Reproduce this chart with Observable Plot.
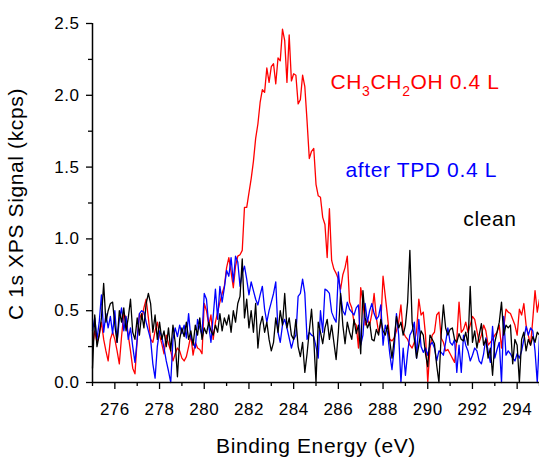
<!DOCTYPE html>
<html><head><meta charset="utf-8">
<script src="https://cdn.jsdelivr.net/npm/d3@7"></script>
<script src="https://cdn.jsdelivr.net/npm/@observablehq/plot@0.6"></script>
<style>
html,body{margin:0;padding:0;background:#fff;}
#chart svg text{letter-spacing:0.03em;}
</style>
</head><body><div id="chart"></div>
<script>
// Binding energy grid (eV)
const energyStart = 275, energyStep = 0.1;

// clean (black)
const clean = [
0.10,0.47,0.25,0.33,0.45,0.69,0.42,0.50,0.55,0.56,
0.40,0.28,0.50,0.42,0.52,0.36,0.45,0.58,0.35,0.30,
0.45,0.33,0.48,0.38,0.55,0.62,0.55,0.35,0.47,0.30,
0.42,0.30,0.36,0.25,0.38,0.22,0.40,0.28,0.04,0.30,
0.38,0.32,0.42,0.30,0.36,0.26,0.40,0.33,0.45,0.30,
0.38,0.34,0.42,0.36,0.33,0.40,0.35,0.48,0.36,0.45,
0.40,0.47,0.35,0.50,0.42,0.55,0.60,0.86,0.45,0.58,
0.38,0.50,0.35,0.55,0.24,0.40,0.46,0.35,0.42,0.30,
0.22,0.28,0.45,0.35,0.50,0.40,0.62,0.38,0.45,0.33,
0.30,0.44,0.25,0.18,0.28,0.07,0.20,0.36,0.51,0.30,
0.00,0.42,0.35,0.27,0.38,0.44,0.30,0.40,0.28,0.16,
0.35,0.62,0.40,0.27,0.42,0.35,0.30,0.44,0.34,0.40,
0.20,0.64,0.45,0.38,0.42,0.30,0.29,0.37,0.33,0.44,
0.36,0.33,0.40,0.29,0.17,0.30,0.46,0.38,0.42,0.33,
0.40,0.56,0.92,0.42,0.30,0.17,0.26,0.36,0.33,0.20,
0.11,0.33,0.30,0.27,0.12,0.00,0.33,0.54,0.38,0.33,
0.37,0.38,0.30,0.28,0.34,0.30,0.29,0.35,0.26,0.67,
0.28,0.36,0.24,0.33,0.41,0.26,0.30,0.17,0.24,0.05,
0.28,0.35,0.42,0.56,0.33,0.40,0.38,0.40,0.13,0.30,
0.26,0.00,0.30,0.35,0.22,0.30,0.26,0.32,0.28,0.35,
0.33];

// after TPD 0.4 L (blue)
const afterTPD = [
0.36,0.45,0.30,0.42,0.61,0.35,0.48,0.38,0.46,0.34,
0.50,0.28,0.44,0.52,0.36,0.46,0.30,0.38,0.25,0.14,
0.30,0.48,0.50,0.49,0.42,0.36,0.30,0.13,0.03,0.25,
0.36,0.32,0.24,0.15,0.08,0.00,0.30,0.38,0.32,0.40,
0.34,0.40,0.31,0.48,0.31,0.28,0.24,0.44,0.38,0.33,
0.62,0.58,0.40,0.28,0.46,0.65,0.44,0.67,0.56,0.66,
0.78,0.74,0.87,0.70,0.88,0.84,0.67,0.76,0.81,0.72,
0.61,0.70,0.64,0.58,0.54,0.61,0.67,0.51,0.42,0.50,
0.56,0.62,0.70,0.35,0.28,0.40,0.44,0.38,0.31,0.24,
0.30,0.33,0.60,0.62,0.72,0.62,0.30,0.35,0.33,0.32,
0.25,0.17,0.50,0.35,0.65,0.64,0.62,0.49,0.45,0.42,
0.77,0.61,0.50,0.47,0.56,0.51,0.49,0.47,0.52,0.54,
0.26,0.33,0.55,0.42,0.50,0.55,0.48,0.44,0.46,0.54,
0.26,0.40,0.35,0.20,0.09,0.24,0.48,0.33,0.00,0.24,
0.05,0.21,0.33,0.36,0.42,0.17,0.44,0.25,0.21,0.24,
0.19,0.26,0.28,0.24,0.15,0.22,0.21,0.19,0.28,0.38,
0.28,0.26,0.30,0.07,0.26,0.07,0.33,0.26,0.22,0.15,
0.19,0.24,0.22,0.15,0.13,0.20,0.31,0.22,0.14,0.39,
0.17,0.23,0.28,0.00,0.46,0.19,0.22,0.20,0.17,0.15,
0.20,0.17,0.22,0.30,0.39,0.33,0.38,0.36,0.22,0.00,
0.32];

// CH3CH2OH 0.4 L (red)
const ethanol = [
0.25,0.36,0.28,0.33,0.42,0.30,0.22,0.15,0.30,0.35,
0.30,0.22,0.13,0.32,0.48,0.45,0.33,0.22,0.10,0.06,
0.30,0.48,0.44,0.52,0.58,0.45,0.30,0.28,0.36,0.42,
0.33,0.27,0.20,0.33,0.27,0.22,0.15,0.20,0.24,0.22,
0.17,0.15,0.18,0.25,0.33,0.19,0.28,0.24,0.23,0.20,
0.55,0.50,0.40,0.47,0.30,0.42,0.49,0.56,0.62,0.67,
0.80,0.87,0.77,0.66,0.81,0.88,0.89,0.92,1.22,1.22,
1.32,1.42,1.54,1.70,1.80,1.95,2.04,2.02,2.19,2.09,
2.20,2.22,2.08,2.26,2.24,2.46,2.38,2.09,2.42,2.10,
2.15,2.14,1.94,1.97,2.14,2.06,1.82,1.56,1.61,1.63,
1.38,1.30,1.29,1.15,1.10,0.87,1.21,0.85,0.79,0.76,
0.72,0.65,0.75,0.80,0.88,0.56,0.52,0.42,0.40,0.24,
0.66,0.56,0.40,0.44,0.40,0.48,0.62,0.45,0.35,0.41,
0.74,0.60,0.46,0.30,0.29,0.31,0.36,0.42,0.54,0.35,
0.32,0.30,0.26,0.24,0.28,0.36,0.58,0.47,0.49,0.33,
0.00,0.24,0.33,0.35,0.47,0.49,0.31,0.28,0.22,0.23,
0.20,0.17,0.14,0.30,0.56,0.35,0.37,0.42,0.35,0.40,
0.46,0.44,0.36,0.28,0.33,0.40,0.36,0.26,0.28,0.30,
0.33,0.35,0.40,0.24,0.38,0.51,0.49,0.48,0.44,0.40,
0.33,0.51,0.47,0.55,0.40,0.33,0.26,0.44,0.64,0.49,
0.58];

const xMajorTicks = [276, 278, 280, 282, 284, 286, 288, 290, 292, 294];
const xMinorTicks = [275, 277, 279, 281, 283, 285, 287, 289, 291, 293, 295];
const yMajorTicks = [0, 0.5, 1.0, 1.5, 2.0, 2.5];
const yMinorTicks = [0.25, 0.75, 1.25, 1.75, 2.25];

const xLabel = "Binding Energy (eV)";
const yLabel = "C 1s XPS Signal (kcps)";

const ethanolLabel = "CH3CH2OH 0.4 L";
const ethanolParts = [["CH", false], ["3", true], ["CH", false], ["2", true], ["OH 0.4 L", false]];
const annotations = [
  {text: ethanolLabel, x: 285.65, y: 2.045, color: "#ff0000"},
  {text: "after TPD 0.4 L", x: 286.32, y: 1.43, color: "#0000ff"},
  {text: "clean", x: 291.59, y: 1.088, color: "#000000"}
];

const energy = clean.map((_, i) => +(energyStart + i * energyStep).toFixed(1));

const svg = Plot.plot({
  width: 539,
  height: 457,
  marginLeft: 92,
  marginRight: 0,
  marginTop: 23,
  marginBottom: 75,
  style: "font-family: 'Liberation Sans', Arial, sans-serif; font-size: 17px; background: white; overflow: visible; color: black;",
  x: {domain: [275, 295]},
  y: {domain: [0, 2.5]},
  marks: [
    Plot.line(ethanol, {x: (d, i) => energy[i], y: d => d, stroke: "#ff0000", strokeWidth: 1.3}),
    Plot.line(afterTPD, {x: (d, i) => energy[i], y: d => d, stroke: "#0000ff", strokeWidth: 1.3}),
    Plot.line(clean, {x: (d, i) => energy[i], y: d => d, stroke: "#000000", strokeWidth: 1.3}),
    Plot.axisX({ticks: xMajorTicks, tickSize: 7, tickPadding: 13, tickFormat: d => String(d), label: null, strokeWidth: 1.3}),
    Plot.axisX({ticks: xMinorTicks, tickSize: 4, tickFormat: () => "", label: null, strokeWidth: 1.3}),
    Plot.axisY({ticks: yMajorTicks, tickSize: 6, tickPadding: 7, tickFormat: d3.format(".1f"), label: null, strokeWidth: 1.3}),
    Plot.axisY({ticks: yMinorTicks, tickSize: 4, tickFormat: () => "", label: null, strokeWidth: 1.3}),
    Plot.ruleY([0], {stroke: "black", strokeWidth: 1.5}),
    Plot.ruleX([275], {stroke: "black", strokeWidth: 1.5}),
    Plot.text(annotations, {x: "x", y: "y", text: "text", fill: "color", textAnchor: "start", lineAnchor: "bottom", fontSize: 21}),
    Plot.text([xLabel], {frameAnchor: "bottom", dy: 70, lineAnchor: "bottom", textAnchor: "middle", fontSize: 21}),
    Plot.text([yLabel], {frameAnchor: "left", rotate: -90, dx: -70, dy: 1, lineAnchor: "bottom", textAnchor: "middle", fontSize: 21})
  ]
});

d3.select(svg).selectAll("text").filter(function () { return this.textContent === ethanolLabel; }).each(function () {
  const t = d3.select(this);
  t.text(null);
  let down = false;
  for (const [s, sub] of ethanolParts) {
    const ts = t.append("tspan").text(s);
    if (sub) {
      ts.attr("font-size", 14);
      if (!down) { ts.attr("dy", 7); down = true; }
    } else if (down) {
      ts.attr("dy", -7); down = false;
    }
  }
});

document.getElementById("chart").appendChild(svg);
</script>
</body></html>
